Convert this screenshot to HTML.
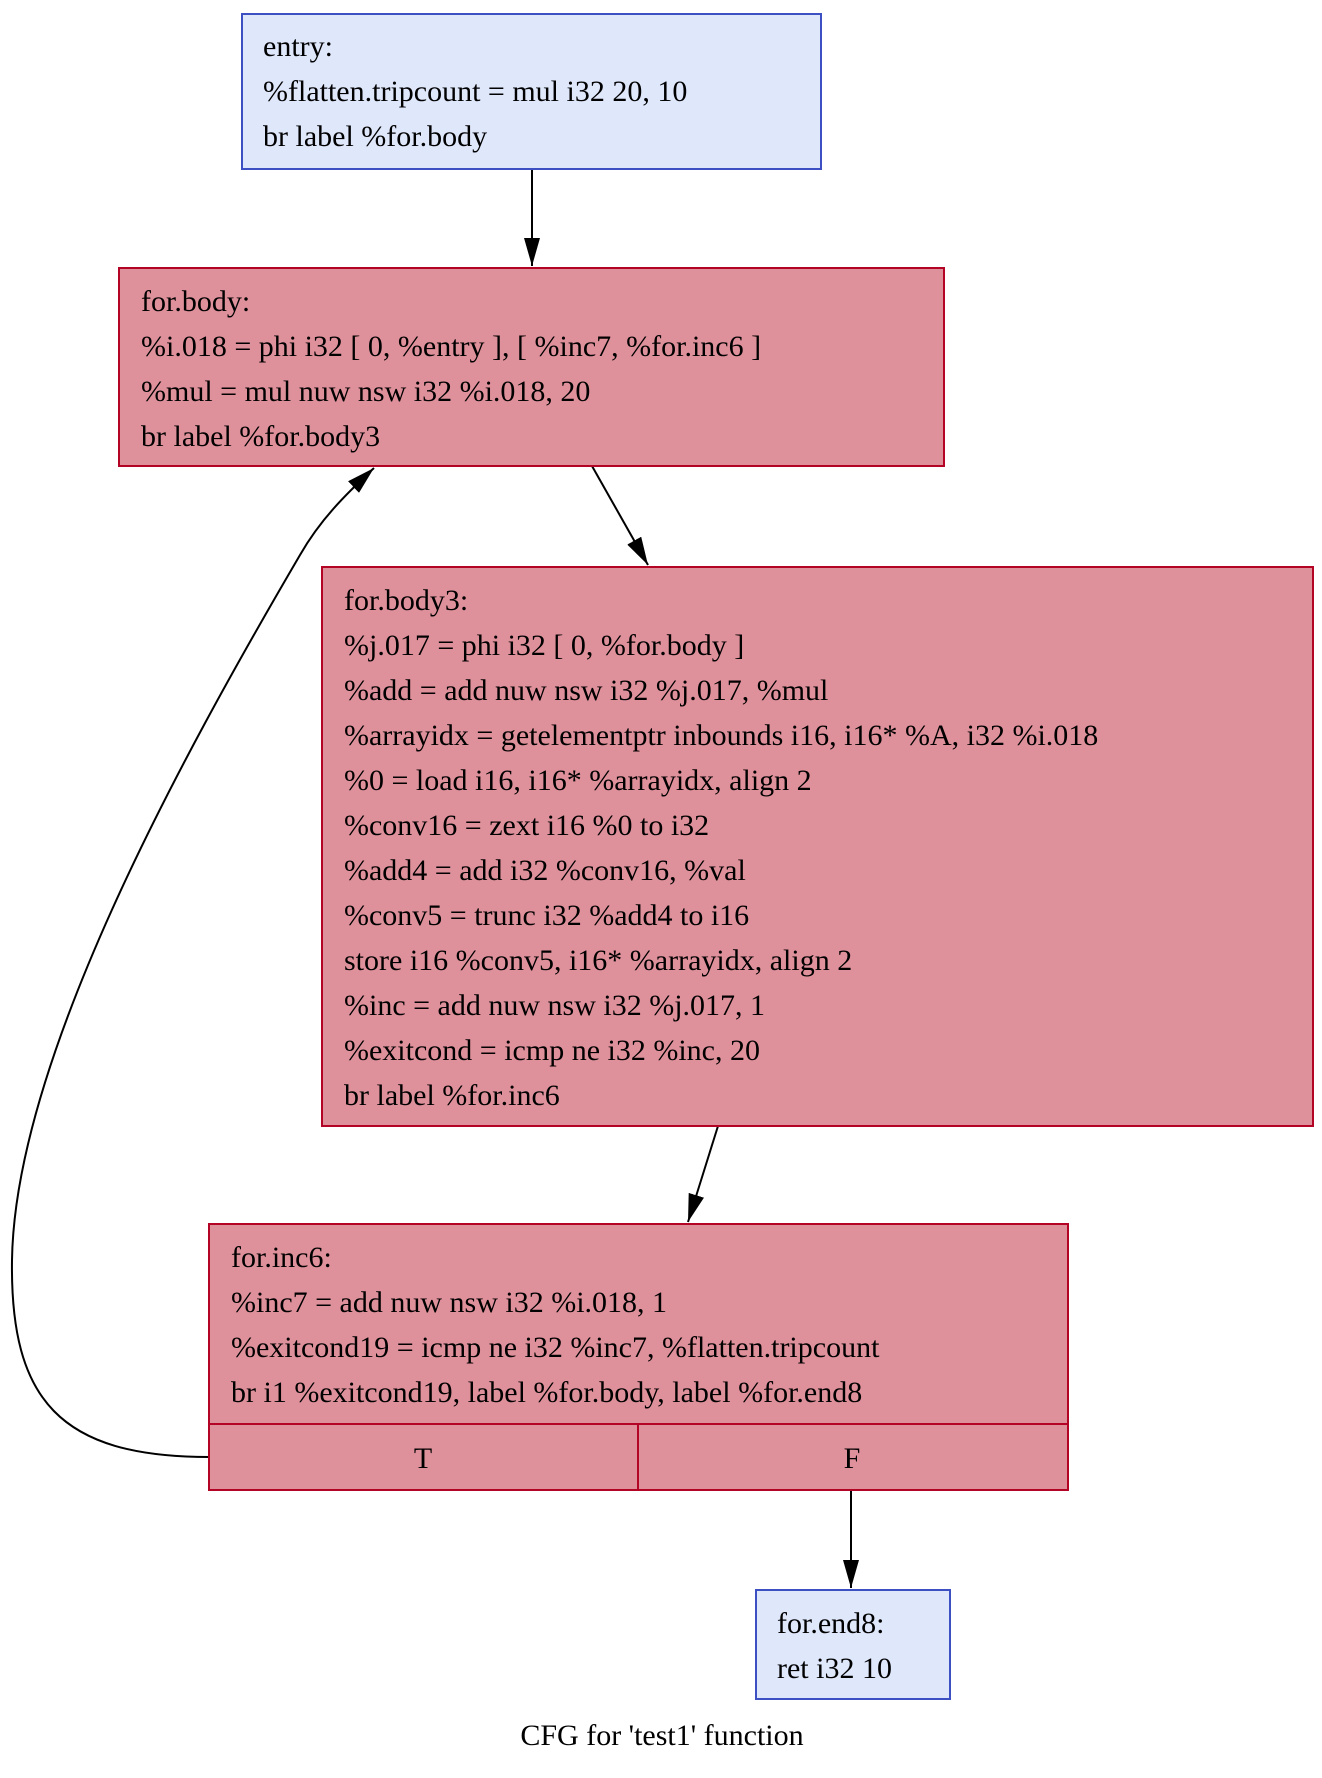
<!DOCTYPE html>
<html><head><meta charset="utf-8"><style>
html,body{margin:0;padding:0;background:#fff;}
svg{display:block;}
text{font-family:"Liberation Serif",serif;font-size:30px;fill:#000;}
</style></head><body>
<svg width="1322" height="1778" viewBox="0 0 1322 1778" xmlns="http://www.w3.org/2000/svg">
<defs><marker id="a" markerWidth="12" markerHeight="12" refX="11" refY="6" orient="auto" markerUnits="userSpaceOnUse"><path d="M0,0 L12,6 L0,12 z" fill="#000"/></marker>
<marker id="b" markerWidth="30" markerHeight="16" refX="28" refY="8" orient="auto" markerUnits="userSpaceOnUse"><path d="M0,0 L28,8 L0,16 z" fill="#000"/></marker></defs>

<!-- edges -->
<path d="M532,169 L532,266" stroke="#000" stroke-width="2" fill="none" marker-end="url(#b)"/>
<path d="M592,466 L648,565" stroke="#000" stroke-width="2" fill="none" marker-end="url(#b)"/>
<path d="M718,1126 L688,1222" stroke="#000" stroke-width="2" fill="none" marker-end="url(#b)"/>
<path d="M851,1490 L851,1588" stroke="#000" stroke-width="2" fill="none" marker-end="url(#b)"/>
<path d="M209,1457 C60,1457 10,1400 12,1260 C15,1060 180,760 300,555 C320,520 345,495 374,468" stroke="#000" stroke-width="2" fill="none" marker-end="url(#b)"/>

<!-- entry -->
<rect x="242" y="14" width="579" height="155" fill="#dfe7fb" stroke="#3d50c3" stroke-width="2"/>
<text x="263" y="56">entry:</text>
<text x="263" y="101">%flatten.tripcount = mul i32 20, 10</text>
<text x="263" y="146">br label %for.body</text>

<!-- for.body -->
<rect x="119" y="268" width="825" height="198" fill="#df919b" stroke="#b40426" stroke-width="2"/>
<text x="141" y="311">for.body:</text>
<text x="141" y="356">%i.018 = phi i32 [ 0, %entry ], [ %inc7, %for.inc6 ]</text>
<text x="141" y="401">%mul = mul nuw nsw i32 %i.018, 20</text>
<text x="141" y="446">br label %for.body3</text>

<!-- for.body3 -->
<rect x="322" y="567" width="991" height="559" fill="#df919b" stroke="#b40426" stroke-width="2"/>
<text x="344" y="610">for.body3:</text>
<text x="344" y="655">%j.017 = phi i32 [ 0, %for.body ]</text>
<text x="344" y="700">%add = add nuw nsw i32 %j.017, %mul</text>
<text x="344" y="745">%arrayidx = getelementptr inbounds i16, i16* %A, i32 %i.018</text>
<text x="344" y="790">%0 = load i16, i16* %arrayidx, align 2</text>
<text x="344" y="835">%conv16 = zext i16 %0 to i32</text>
<text x="344" y="880">%add4 = add i32 %conv16, %val</text>
<text x="344" y="925">%conv5 = trunc i32 %add4 to i16</text>
<text x="344" y="970">store i16 %conv5, i16* %arrayidx, align 2</text>
<text x="344" y="1015">%inc = add nuw nsw i32 %j.017, 1</text>
<text x="344" y="1060">%exitcond = icmp ne i32 %inc, 20</text>
<text x="344" y="1105">br label %for.inc6</text>

<!-- for.inc6 -->
<rect x="209" y="1224" width="859" height="266" fill="#df919b" stroke="#b40426" stroke-width="2"/>
<line x1="209" y1="1424" x2="1068" y2="1424" stroke="#b40426" stroke-width="2"/>
<line x1="638" y1="1424" x2="638" y2="1490" stroke="#b40426" stroke-width="2"/>
<text x="231" y="1267">for.inc6:</text>
<text x="231" y="1312">%inc7 = add nuw nsw i32 %i.018, 1</text>
<text x="231" y="1357">%exitcond19 = icmp ne i32 %inc7, %flatten.tripcount</text>
<text x="231" y="1402">br i1 %exitcond19, label %for.body, label %for.end8</text>
<text x="423" y="1468" text-anchor="middle">T</text>
<text x="852" y="1468" text-anchor="middle">F</text>

<!-- for.end8 -->
<rect x="756" y="1590" width="194" height="109" fill="#dfe7fb" stroke="#3d50c3" stroke-width="2"/>
<text x="777" y="1633">for.end8:</text>
<text x="777" y="1678">ret i32 10</text>

<text x="662" y="1745" text-anchor="middle">CFG for 'test1' function</text>
</svg>
</body></html>
